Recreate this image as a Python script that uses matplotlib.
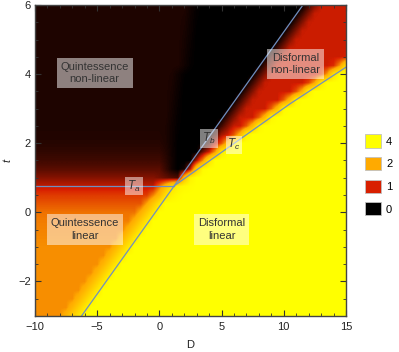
"""Regions of linear / non-linear behaviour in the (D, t) plane"""
import numpy as np
import matplotlib
matplotlib.use("Agg")
import matplotlib.pyplot as plt
from matplotlib.colors import LinearSegmentedColormap, Normalize
from matplotlib.patches import Patch
from matplotlib.ticker import MultipleLocator

plt.rcParams['font.family'] = ['Liberation Sans', 'DejaVu Sans']
plt.rcParams['font.size'] = 8
plt.rcParams['mathtext.fontset'] = 'custom'
plt.rcParams['mathtext.it'] = 'Liberation Sans:italic'
plt.rcParams['mathtext.rm'] = 'Liberation Sans'

d_nodes = np.arange(-10, 15.25, 0.5)
t_nodes = np.arange(6, -3.125, -0.25)

levels = [
    [0.15] * 25 + [0.09, 0.035] + [0] * 17 + [0.3, 0.61, 0.92] + [0.95] * 4,          # 6.00
    [0.15] * 24 + [0.14, 0.08, 0.025] + [0] * 16 + [0.3, 0.61, 0.92] + [0.95] * 5,     # 5.75
    [0.15] * 24 + [0.13, 0.07, 0.016] + [0] * 15 + [0.3, 0.61, 0.92] + [0.95] * 6,     # 5.50
    [0.15] * 24 + [0.12, 0.066, 0.01] + [0] * 14 + [0.3, 0.61, 0.92] + [0.95] * 7,     # 5.25
    [0.15] * 24 + [0.11, 0.057] + [0] * 14 + [0.3, 0.61, 0.92] + [0.95] * 8,           # 5.00
    [0.15] * 24 + [0.105, 0.047] + [0] * 13 + [0.3, 0.61, 0.92] + [0.95] * 9,          # 4.75
    [0.15] * 24 + [0.096, 0.038] + [0] * 12 + [0.3, 0.61, 0.92] + [0.95] * 9
    + [1.0],                                                                         # 4.50
    [0.15] * 23 + [0.145, 0.088, 0.03] + [0] * 11 + [0.3, 0.61, 0.92] + [0.95] * 8
    + [1.09, 1.84, 3.12],                                                            # 4.25
    [0.15] * 22 + [0.136, 0.08, 0.02] + [0] * 11 + [0.3, 0.61, 0.92] + [0.95] * 7
    + [1.18, 1.93, 3.29, 4, 4],                                                      # 4.00
    [0.15] * 22 + [0.127, 0.07, 0.01] + [0] * 10 + [0.3, 0.61, 0.92] + [0.95] * 6
    + [1.27, 2.03, 3.46] + [4] * 4,                                                  # 3.75
    [0.15] * 22 + [0.118, 0.06] + [0] * 10 + [0.3, 0.61, 0.92] + [0.95] * 5
    + [1.36, 2.2, 3.63] + [4] * 6,                                                   # 3.50
    [0.15] * 22 + [0.11, 0.05] + [0] * 9 + [0.3, 0.61, 0.92] + [0.95] * 4
    + [1.45, 2.37, 3.8] + [4] * 8,                                                   # 3.25
    [0.15] * 22 + [0.1, 0.04] + [0] * 8 + [0.3, 0.61, 0.92] + [0.95] * 3
    + [1.48, 2.43, 3.86] + [4] * 10,                                                 # 3.00
    [0.15] * 22 + [0.09, 0.03] + [0] * 7 + [0.3, 0.61, 0.92] + [0.95] * 2
    + [1.45, 2.37, 3.8] + [4] * 12,                                                  # 2.75
    [0.15] * 21 + [0.14, 0.08, 0.024] + [0] * 6 + [0.3, 0.61, 0.92, 0.95]
    + [1.42, 2.32, 3.74] + [4] * 14,                                                 # 2.50
    [0.16] * 21 + [0.14, 0.077, 0.016] + [0] * 5
    + [0.3, 0.75, 0.95, 1.39, 2.26, 3.69] + [4] * 16,                                # 2.25
    [0.18] * 21 + [0.146, 0.076, 0.007] + [0] * 4
    + [0.3, 0.85, 1.36, 2.3, 3.65] + [4] * 18,                                       # 2.00
    [0.23] * 21 + [0.17, 0.085] + [0] * 4 + [0.5, 0.95, 1.9, 3.5] + [4] * 20,          # 1.75
    [0.3] * 21 + [0.21, 0.09] + [0] * 3 + [0.8, 1.8, 3.3] + [4] * 22,                  # 1.50
    [0.42] * 21 + [0.26, 0.1, 0] + [0.1, 0.9, 2.8, 3.9] + [4] * 23,                    # 1.25
    [0.62] * 20 + [0.55, 0.47, 0.4, 0.35] + [2.4, 3.7] + [4] * 25,                     # 1.00
    [0.9] * 20 + [1.62, 2.43, 3.25, 3.7, 3.85, 3.95] + [4] * 25,                       # 0.75
    [1.2] * 19 + [1.7, 2.3, 3.2, 3.7, 3.9] + [4] * 27,                                 # 0.50
    [1.4] * 18 + [1.98, 2.67, 3.35] + [4] * 30,                                        # 0.25
    [1.6] * 17 + [2.1, 2.74, 3.37] + [4] * 31,                                         # 0.00
    [1.68] * 16 + [2.17, 2.78, 3.39] + [4] * 32,                                       # -0.25
    [1.72] * 15 + [2.2, 2.8, 3.4] + [4] * 33,                                          # -0.50
    [1.76] * 14 + [2.23, 2.82, 3.41] + [4] * 34,                                       # -0.75
    [1.8] * 13 + [2.26, 2.84, 3.42] + [4] * 35,                                        # -1.00
    [1.8] * 12 + [2.26, 2.84, 3.42] + [4] * 36,                                        # -1.25
    [1.8] * 11 + [2.26, 2.84, 3.42] + [4] * 37,                                        # -1.50
    [1.8] * 10 + [2.26, 2.84, 3.42] + [4] * 38,                                        # -1.75
    [1.8] * 9 + [2.26, 2.84, 3.42] + [4] * 39,                                         # -2.00
    [1.8] * 8 + [2.26, 2.84, 3.42] + [4] * 40,                                         # -2.25
    [1.8] * 7 + [2.26, 2.84, 3.42] + [4] * 41,                                         # -2.50
    [1.8] * 6 + [2.26, 2.84, 3.42] + [4] * 42,                                         # -2.75
    [1.8] * 5 + [2.26, 2.84, 3.42] + [4] * 43,                                         # -3.00
]

# boundary curves
ta_d = [-10, 1.2]
ta_t = [0.77, 0.77]
tb_d = [-6.26, 1.2, 11.54]
tb_t = [-3, 0.77, 6]
tc_d = [1.2, 10.5, 15]
tc_t = [0.77, 3.14, 4.2]

region_labels = ['Quintessence\nnon-linear', 'Disformal\nnon-linear',
                 'Quintessence\nlinear', 'Disformal\nlinear']
region_d = [-5.2, 10.94, -6.0, 5.0]
region_t = [4.03, 4.29, -0.5, -0.5]

curve_labels = ['$T_a$', '$T_b$', '$T_c$']
curve_d = [-2.04, 3.99, 6.0]
curve_t = [0.76, 2.14, 1.95]

legend_values = [4, 2, 1, 0]

cmap_nodes = [0, 1, 2, 4]
cmap_colors = ['#000000', '#d81e00', '#ffaa00', '#ffff00']
cmap = LinearSegmentedColormap.from_list(
    'levels', [(v / 4, c) for v, c in zip(cmap_nodes, cmap_colors)])
norm = Normalize(vmin=0, vmax=4)

fig = plt.figure(figsize=(3.99, 3.52), dpi=100)
ax = fig.add_axes([0.0877, 0.1023, 0.7794, 0.8835])

half_d = 0.5 * (d_nodes[1] - d_nodes[0])
half_t = 0.5 * abs(t_nodes[1] - t_nodes[0])
ax.imshow(np.array(levels, dtype=float), cmap=cmap, norm=norm,
          origin='upper', aspect='auto', interpolation='bilinear',
          interpolation_stage='data',
          extent=[d_nodes[0] - half_d, d_nodes[-1] + half_d,
                  t_nodes[-1] - half_t, t_nodes[0] + half_t])

line_color = '#6f8fc0'
for xs, ys in [(ta_d, ta_t), (tb_d, tb_t), (tc_d, tc_t)]:
    ax.plot(xs, ys, color=line_color, lw=0.9)

box = dict(boxstyle='square,pad=0.35', facecolor='white', alpha=0.5,
           edgecolor='none')
for label, x, y in zip(region_labels, region_d, region_t):
    ax.text(x, y, label, ha='center', va='center', linespacing=1.35,
            color='#333333', bbox=box)
small_box = dict(boxstyle='square,pad=0.15', facecolor='white', alpha=0.5,
                 edgecolor='none')
for label, x, y in zip(curve_labels, curve_d, curve_t):
    ax.text(x, y, label, ha='center', va='center', color='#333333',
            fontsize=8.5, bbox=small_box)

ax.set_xlim(-10, 15)
ax.set_ylim(-3, 6)
ax.xaxis.set_major_locator(MultipleLocator(5))
ax.xaxis.set_minor_locator(MultipleLocator(1))
ax.yaxis.set_major_locator(MultipleLocator(2))
ax.yaxis.set_minor_locator(MultipleLocator(0.5))
ax.tick_params(which='both', direction='in', top=True, right=True,
               color='#333333', labelcolor='#222222')
ax.tick_params(which='major', length=4, width=0.8)
ax.tick_params(which='minor', length=2, width=0.6)
ax.tick_params(axis='x', pad=4)
ax.tick_params(axis='y', pad=3)
for spine in ax.spines.values():
    spine.set_color('#444444')
    spine.set_linewidth(1.0)

ax.set_xlabel('D', labelpad=6, color='#222222')
ax.set_ylabel(r'$\bar{t}$', labelpad=3, color='#222222')

handles = [Patch(facecolor=cmap(norm(v)), edgecolor='#c0c0c0', lw=0.6,
                 label=str(v)) for v in legend_values]
fig.legend(handles=handles, loc='center left', bbox_to_anchor=(0.895, 0.503),
           frameon=False, handlelength=1.45, handleheight=1.45,
           handletextpad=0.45, labelspacing=0.85, borderpad=0.2)

fig.savefig('out.png', dpi=100)
